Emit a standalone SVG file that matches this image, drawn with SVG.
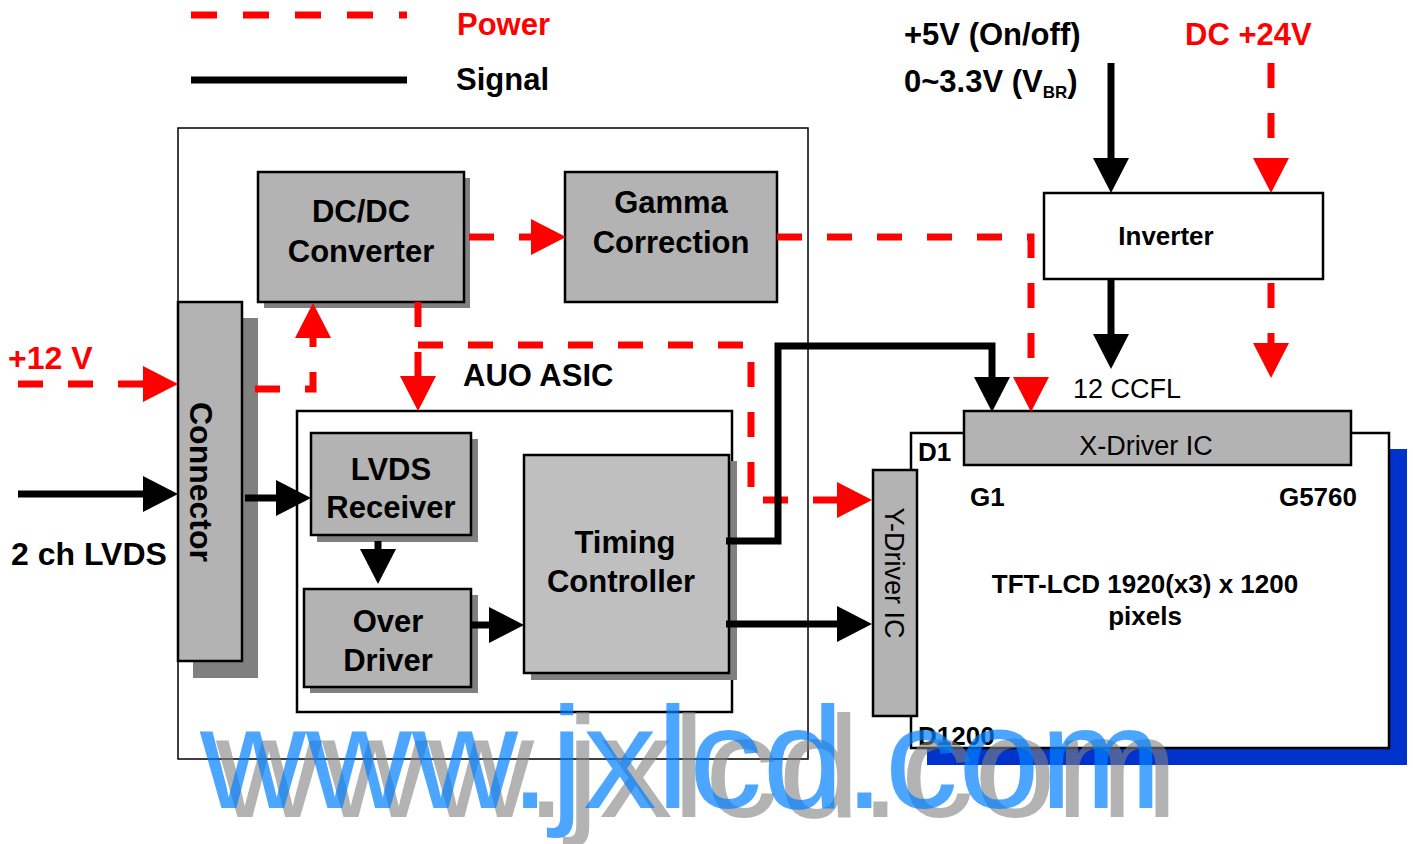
<svg xmlns="http://www.w3.org/2000/svg" width="1413" height="844" viewBox="0 0 1413 844">
<defs>
<style>
.bg{fill:#ffffff}
.box{fill:#b3b3b3;stroke:#000;stroke-width:2.5}
.tc{fill:#bfbfbf;stroke:#000;stroke-width:2.5}
.wbox{fill:#fff;stroke:#000;stroke-width:2.5}
.outer{fill:#fff;stroke:#000;stroke-width:1.5}
.shadow{fill:#808080}
.t{font-family:"Liberation Sans",Arial,Helvetica,sans-serif;font-weight:bold;font-size:31px;fill:#000}
.ts{font-family:"Liberation Sans",Arial,Helvetica,sans-serif;font-weight:bold;font-size:26px;fill:#000}
.tr{font-family:"Liberation Sans",Arial,Helvetica,sans-serif;font-weight:normal;font-size:27px;fill:#000}
.red{fill:#ff0000}
.sig{fill:none;stroke:#000;stroke-width:7}
.pwr{fill:none;stroke:#ff0000;stroke-width:7;stroke-dasharray:25 25}
.wm{font-family:"Liberation Sans",Arial,Helvetica,sans-serif;font-size:145px;font-weight:normal}
</style>
<marker id="ab" markerUnits="userSpaceOnUse" markerWidth="36" markerHeight="36" viewBox="0 0 36 36" refX="0" refY="18" orient="auto"><path d="M0,0 L35,18 L0,36 Z" fill="#000"/></marker>
<marker id="ar" markerUnits="userSpaceOnUse" markerWidth="36" markerHeight="36" viewBox="0 0 36 36" refX="0" refY="18" orient="auto"><path d="M0,0 L35,18 L0,36 Z" fill="#ff0000"/></marker>
</defs>
<rect class="bg" x="0" y="0" width="1413" height="844"/>

<g id="legend">
<line x1="191" y1="15" x2="407" y2="15" stroke="#ff0000" stroke-width="7" stroke-dasharray="26 26"/>
<text class="t red" x="457" y="35">Power</text>
<line x1="191" y1="80" x2="407" y2="80" stroke="#000" stroke-width="7"/>
<text class="t" x="456" y="90">Signal</text>
</g>

<g id="inputs">
<text class="t" x="904" y="45">+5V (On/off)</text>
<text class="t" x="904" y="92">0~3.3V (V<tspan font-size="17" dy="6">BR</tspan><tspan dy="-6">)</tspan></text>
<text class="t red" x="1185" y="45">DC +24V</text>
<text class="t red" x="8" y="369" style="font-size:32px">+12 V</text>
<text class="t" x="11" y="565" style="font-size:32px">2 ch LVDS</text>
</g>

<g id="module">
<rect class="outer" x="178" y="128" width="630" height="631"/>
</g>

<g id="dcdc">
<rect class="shadow" x="264" y="178" width="206" height="130"/>
<rect class="box" x="258" y="172" width="206" height="130"/>
<text class="t" x="361" y="222" text-anchor="middle">DC/DC</text>
<text class="t" x="361" y="262" text-anchor="middle">Converter</text>
</g>

<g id="gamma">
<rect class="box" x="565" y="172" width="212" height="130"/>
<text class="t" x="671" y="213" text-anchor="middle">Gamma</text>
<text class="t" x="671" y="253" text-anchor="middle">Correction</text>
</g>

<g id="connector">
<rect class="shadow" x="193" y="318" width="65" height="360"/>
<rect class="box" x="178" y="302" width="64" height="359"/>
<text class="t" transform="translate(190,482) rotate(90)" text-anchor="middle" style="font-size:32px">Connector</text>
</g>

<g id="asic">
<text class="t" x="463" y="386">AUO ASIC</text>
<rect class="wbox" x="297" y="411" width="435" height="301"/>
</g>

<g id="lvds">
<rect class="shadow" x="317" y="439" width="161" height="103"/>
<rect class="box" x="311" y="433" width="160" height="102"/>
<text class="t" x="391" y="480" text-anchor="middle">LVDS</text>
<text class="t" x="391" y="518" text-anchor="middle">Receiver</text>
</g>

<g id="overdriver">
<rect class="shadow" x="310" y="595" width="168" height="98"/>
<rect class="box" x="304" y="589" width="167" height="98"/>
<text class="t" x="388" y="632" text-anchor="middle">Over</text>
<text class="t" x="388" y="671" text-anchor="middle">Driver</text>
</g>

<g id="timing">
<rect class="shadow" x="531" y="461" width="206" height="219"/>
<rect class="tc" x="524" y="455" width="205" height="218"/>
<text class="t" x="625" y="553" text-anchor="middle">Timing</text>
<text class="t" x="621" y="592" text-anchor="middle">Controller</text>
</g>

<g id="inverter">
<rect class="wbox" x="1044" y="193" width="279" height="86"/>
<text class="ts" x="1166" y="245" text-anchor="middle">Inverter</text>
</g>

<g id="ccfl">
<text class="tr" x="1073" y="398">12 CCFL</text>
</g>

<g id="panel">
<rect x="927" y="449" width="480" height="316" fill="#0033cc"/>
<rect class="wbox" x="911" y="433" width="478" height="315"/>
<text class="ts" x="918" y="461">D1</text>
<text class="ts" x="970" y="506">G1</text>
<text class="ts" x="1357" y="506" text-anchor="end">G5760</text>
<text class="ts" x="1145" y="593" text-anchor="middle">TFT-LCD 1920(x3) x 1200</text>
<text class="ts" x="1145" y="625" text-anchor="middle">pixels</text>
<text class="ts" x="918" y="745">D1200</text>
</g>

<g id="xdriver">
<rect class="box" x="964" y="411" width="387" height="54"/>
<text class="tr" x="1146" y="455" text-anchor="middle">X-Driver IC</text>
</g>

<g id="ydriver">
<rect class="box" x="873" y="470" width="44" height="246"/>
<text class="tr" transform="translate(885,573) rotate(90)" text-anchor="middle">Y-Driver IC</text>
</g>

<g id="connectors">
<path class="pwr" d="M18,384 H143" marker-end="url(#ar)"/>
<path class="sig" d="M18,494 H143" marker-end="url(#ab)"/>
<path class="sig" d="M245,498 H276" marker-end="url(#ab)"/>
<path class="pwr" d="M255,389 H313 V338" marker-end="url(#ar)"/>
<path class="pwr" d="M469,237 H531" marker-end="url(#ar)"/>
<path class="pwr" d="M777,237 H1031 V377" marker-end="url(#ar)"/>
<path class="pwr" d="M418,302 V376" marker-end="url(#ar)"/>
<path class="pwr" d="M418,345 H751 V500 H837" marker-end="url(#ar)"/>
<path class="sig" d="M726,541 H778 V346 H992 V377" marker-end="url(#ab)"/>
<path class="sig" d="M726,624 H837" marker-end="url(#ab)"/>
<path class="sig" d="M378,541 V549" marker-end="url(#ab)"/>
<path class="sig" d="M471,625 H489" marker-end="url(#ab)"/>
<path class="sig" d="M1111,63 V158" marker-end="url(#ab)"/>
<path class="pwr" d="M1271,63 V158" marker-end="url(#ar)"/>
<path class="sig" d="M1111,279 V334" marker-end="url(#ab)"/>
<path class="pwr" d="M1271,283 V343" marker-end="url(#ar)"/>
</g>

<g id="watermark">
<text class="wm" x="216" y="817" fill="#808080" fill-opacity="0.6" textLength="962" lengthAdjust="spacingAndGlyphs">www.jxlcd.com</text>
<text class="wm" x="200" y="808" fill="#0080ff" fill-opacity="0.7" textLength="962" lengthAdjust="spacingAndGlyphs">www.jxlcd.com</text>
</g>
</svg>
